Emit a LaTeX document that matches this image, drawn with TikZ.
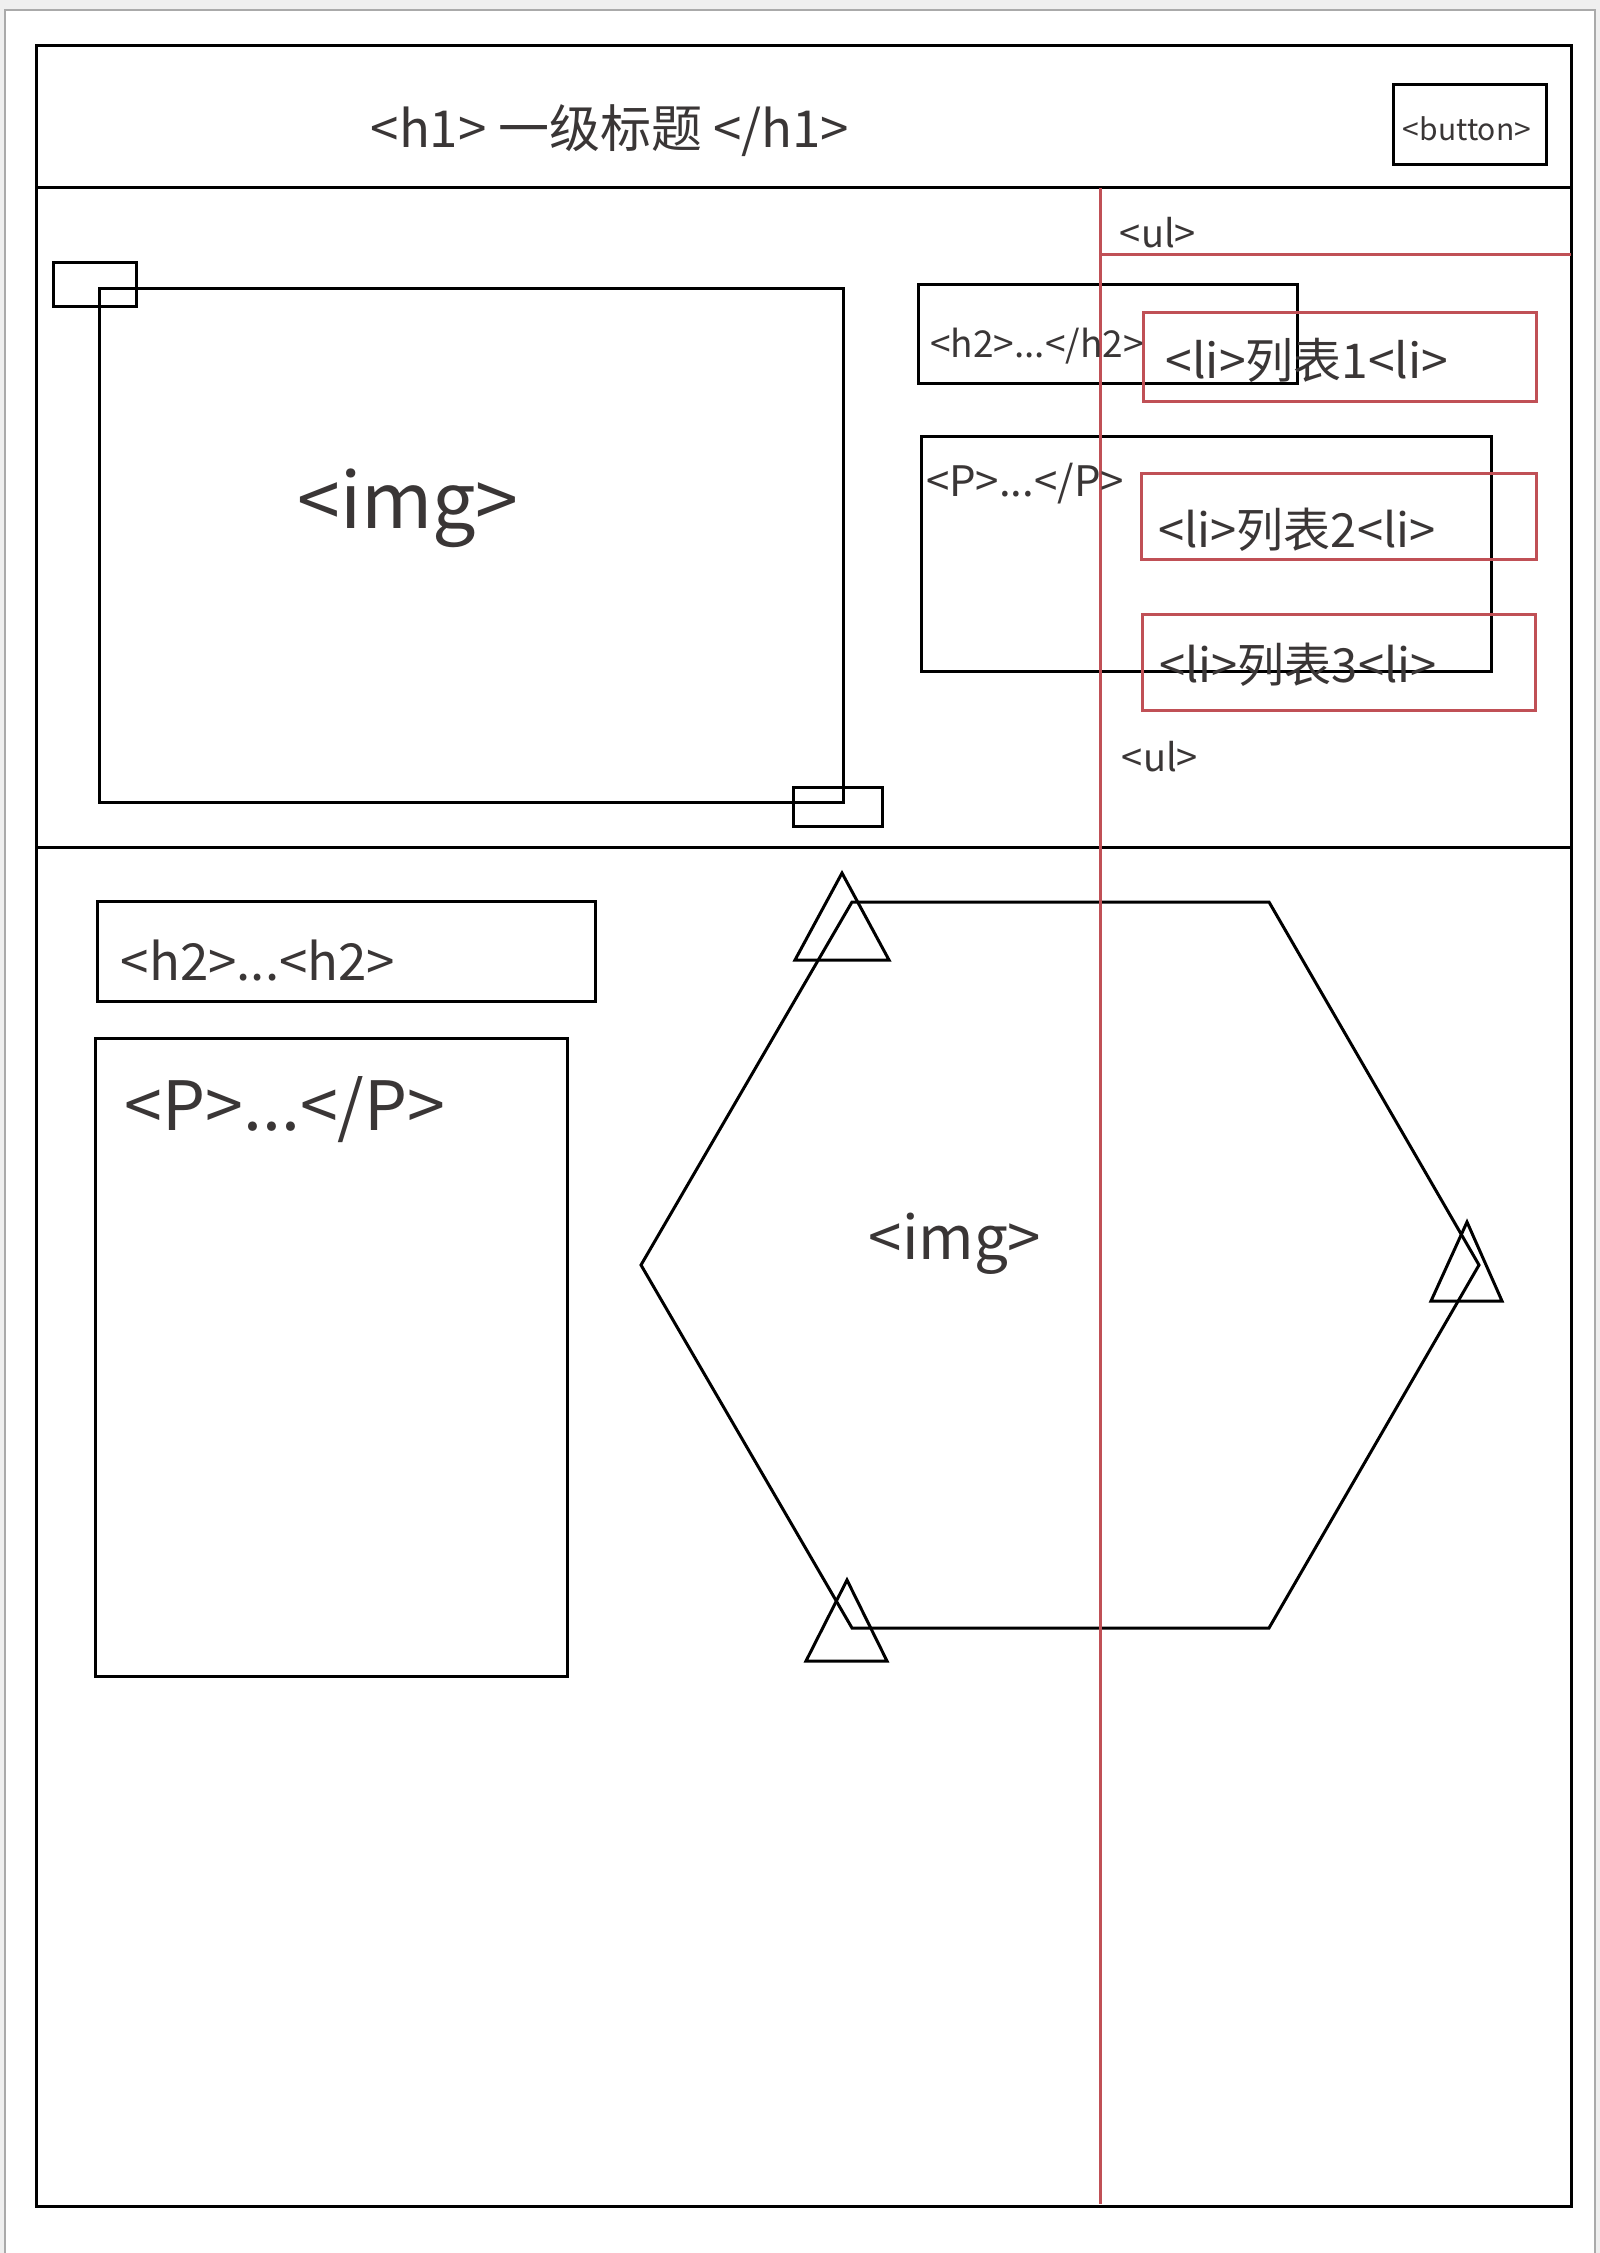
\documentclass[tikz,border=0pt]{standalone}
\usepackage{fontspec}
\setmainfont{Noto Sans CJK SC}
\definecolor{redline}{RGB}{192,80,86}
\definecolor{ink}{RGB}{58,54,54}
\definecolor{pagegray}{RGB}{239,239,239}
\definecolor{edgegray}{RGB}{170,170,170}
\begin{document}
\begin{tikzpicture}[x=1pt,y=-1pt,
  blk/.style={draw=black,line width=3pt},
  redl/.style={draw=redline,line width=3pt},
  hand/.style={text=ink,inner sep=0pt,anchor=base},
  fs/.style={font=\fontsize{#1}{#1}\selectfont}
]
\useasboundingbox (0,0) rectangle (1600,2253);
\fill[pagegray] (0,0) rectangle (1600,2253);
\filldraw[fill=white,draw=edgegray,line width=2pt] (5,10) rectangle (1595,2270);

% frames
\draw[blk] (36,46) rectangle (1571,2206);
\draw[blk] (36,188) -- (1571,188);
\draw[blk] (36,847) -- (1571,847);
\draw[blk] (1393,85) rectangle (1546,165);
% top section
\draw[blk] (53,262) rectangle (136,306);
\draw[blk] (99,288) rectangle (843,802);
\draw[blk] (793,787) rectangle (882,826);
\draw[blk] (918,284) rectangle (1297,383);
\draw[blk] (921,436) rectangle (1491,671);
% bottom section
\draw[blk] (97,901) rectangle (595,1001);
\draw[blk] (95,1038) rectangle (567,1676);
\draw[blk] (852,902) -- (1269,902) -- (1479,1265) -- (1269,1628) -- (852,1628) -- (641,1265) -- cycle;
\draw[blk] (842,873) -- (889,960) -- (795,960) -- cycle;
\draw[blk] (1467,1222) -- (1502,1301) -- (1431,1301) -- cycle;
\draw[blk] (847,1580) -- (887,1661) -- (806,1661) -- cycle;
% red list
\draw[redl] (1100,188) -- (1100,2204);
\draw[redl] (1100,254) -- (1571,254);
\draw[redl] (1143,312) rectangle (1536,401);
\draw[redl] (1141,473) rectangle (1536,559);
\draw[redl] (1142,614) rectangle (1535,710);

% texts
\node[hand,fs=51] (h1) at (610,148) {<h1> 一级标题 </h1>};
\node[hand,fs=30] (btn) at (1467,141) {<button>};
\node[hand,fs=38] (ul1) at (1158,247) {<ul>};
\node[hand,fs=37] (h2a) at (1037,357) {<h2>...</h2>};
\node[hand,fs=48] (li1) at (1307,378) {<li>列表1<li>};
\node[hand,fs=42] (pa) at (1025,496) {<P>...</P>};
\node[hand,fs=47] (li2) at (1297,547) {<li>列表2<li>};
\node[hand,fs=47] (li3) at (1298,682) {<li>列表3<li>};
\node[hand,fs=38] (ul2) at (1160,771) {<ul>};
\node[hand,fs=77] (img1) at (408,528) {<img>};
\node[hand,fs=51] (h2b) at (258,980) {<h2>...<h2>};
\node[hand,fs=68] (pb) at (285,1130) {<P>...</P>};
\node[hand,fs=60] (img2) at (955,1259) {<img>};
\end{tikzpicture}
\end{document}
